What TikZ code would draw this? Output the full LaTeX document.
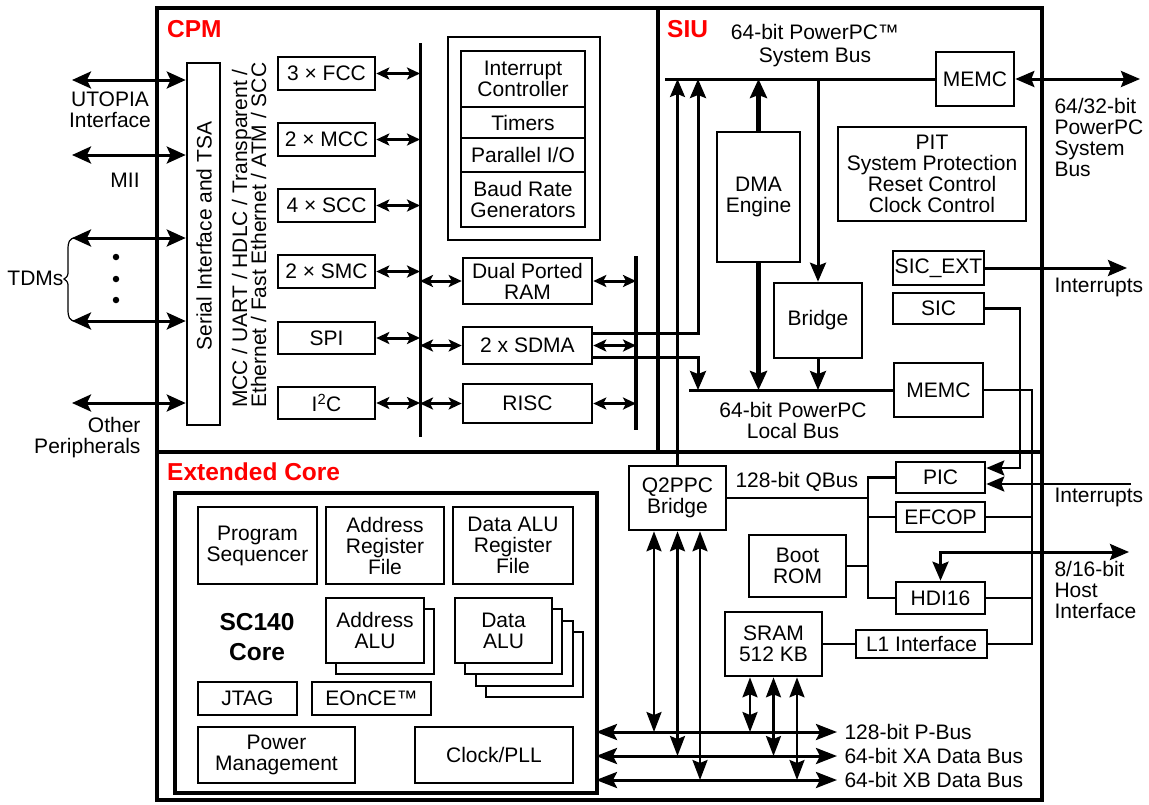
\documentclass[tikz,border=0pt]{standalone}
\usepackage{fontspec}
\setmainfont{Liberation Sans}
\usetikzlibrary{arrows.meta,calc}
\newcommand\mybox[7][]{%
  \pgfmathsetmacro\mbW{#5-#3}\pgfmathsetmacro\mbH{#6-#4}%
  \pgfmathsetmacro\mbX{(#3+#5)/2}\pgfmathsetmacro\mbY{(#4+#6)/2}%
  \node[blk,#1,minimum width=\mbW pt,minimum height=\mbH pt] (#2) at (\mbX,\mbY) {#7};}
\begin{document}
\begin{tikzpicture}[x=1pt,y=-1pt,
  font=\fontsize{21}{21}\selectfont,
  blk/.style={draw,line width=2.6pt,fill=white,inner sep=1pt,align=center},
  framebox/.style={line width=4.8pt},
  lbl/.style={text=red,font=\fontsize{24.5}{25}\selectfont\bfseries,inner sep=0pt},
  conn/.style={line width=3pt,>={Stealth[length=19pt,width=16pt,inset=3pt]}},
  fat/.style={line width=4.5pt,>={Stealth[length=19pt,width=17pt,inset=3pt]}},
  thinc/.style={line width=2.5pt,>={Stealth[length=18pt,width=15pt,inset=3pt]}},
  ext/.style={line width=3pt,>={Stealth[length=19pt,width=17pt,inset=4pt]},<->},
  sm/.style={line width=3pt,>={Stealth[length=13pt,width=12pt,inset=3pt]},<->},
  vb/.style={line width=2.5pt,>={Stealth[length=20pt,width=15pt,inset=3pt]},<->},
  busarr/.style={line width=3pt,>={Stealth[length=21pt,width=16pt,inset=4pt]},<->},
  dot/.style={circle,fill,inner sep=0pt,minimum size=6.5pt}
]
\useasboundingbox (0,0) rectangle (1149,804);
% ---------- frames ----------
\mybox[framebox]{cpm}{157}{8}{658}{452}{}
\mybox[framebox]{siu}{658}{8}{1042}{452}{}
\mybox[framebox]{ext}{157}{452}{1042}{800}{}
\node[lbl,anchor=base west] (cpml) at (167,37) {CPM};
\node[lbl,anchor=base west] (siul) at (667,37) {SIU};
\node[lbl,anchor=base west] (extl) at (167,480) {Extended Core};
% ---------- CPM ----------
\mybox{serial}{187}{63}{220}{425}{}
\node[rotate=90,inner sep=0pt] (serialt) at (204,236) {Serial Interface and TSA};
\node[rotate=90,anchor=base west,inner sep=0pt] (proto1) at (247,408) {MCC / UART / HDLC / Transparent /};
\node[rotate=90,anchor=base west,inner sep=0pt] (proto2) at (266,408) {Ethernet / Fast Ethernet / ATM / SCC};
\mybox{fcc}{278}{57}{375}{90}{3 × FCC}
\mybox{mcc}{278}{123}{375}{156}{2 × MCC}
\mybox{scc}{278}{189}{375}{222}{4 × SCC}
\mybox{smc}{278}{255}{375}{288}{2 × SMC}
\mybox{spi}{278}{322}{375}{354}{SPI}
\mybox{iic}{278}{387}{375}{419}{I\textsuperscript{2}C}
\mybox[line width=1.8pt]{intg}{448}{37}{600}{240}{}
\mybox{ictl}{461}{51}{585}{107}{Interrupt\\Controller}
\mybox{tim}{461}{107}{585}{138}{Timers}
\mybox{pio}{461}{138}{585}{172}{Parallel I/O}
\mybox{brg}{461}{172}{585}{227}{Baud Rate\\Generators}
\mybox{dpr}{463}{258}{592}{304}{Dual Ported\\RAM}
\mybox{sdma}{463}{327}{592}{364}{2 x SDMA}
\mybox{risc}{463}{384}{592}{423}{RISC}
\coordinate (lbT) at (420,43); \coordinate (lbB) at (420,437);
\draw[line width=3pt] (lbT) -- (lbB);
\coordinate (rbT) at (636,256); \coordinate (rbB) at (636,430);
\draw[line width=4.5pt] (rbT) -- (rbB);
\foreach \n in {fcc,mcc,scc,smc,spi,iic} {\draw[sm] (\n.east) -- (\n.east -| lbT);}
\foreach \n in {dpr,sdma,risc} {\draw[sm] (\n.west -| lbT) -- (\n.west); \draw[sm] (\n.east) -- (\n.east -| rbT);}
% external left
\coordinate (utp) at (72,80); \coordinate (mii) at (72,155);
\coordinate (tdma) at (72,238); \coordinate (tdmb) at (72,321); \coordinate (oth) at (72,403);
\foreach \c in {utp,mii,tdma,tdmb,oth} {\draw[ext] (\c) -- (\c -| serial.west);}
\node[align=center] (utpl) at (110,110) {UTOPIA\\Interface};
\node (miil) at (125,180) {MII};
\node[anchor=east] (tdml) at (67,278) {TDMs};
\node[align=right,anchor=east] (othl) at (144,438) {Other\\Peripherals};
\node[dot] (d1) at (116,257) {};
\node[dot] (d2) at (116,279) {};
\node[dot] (d3) at (116,300) {};
\draw[line width=1.2pt] (76,238) .. controls (69,238) and (68,242) .. (68,250) -- (68,270)
  .. controls (68,276) .. (64,279) .. controls (68,282) .. (68,288) -- (68,309)
  .. controls (68,317) and (69,321) .. (76,321);
% ---------- SIU ----------
\node[align=center] (sysbl) at (815,46) {64-bit PowerPC™\\[2pt]System Bus};
\mybox{memca}{936}{52}{1014}{106}{MEMC}
\mybox{dma}{717}{132}{800}{262}{DMA\\Engine}
\mybox{brdg}{774}{283}{862}{358}{Bridge}
\mybox{pit}{838}{127}{1026}{221}{PIT\\System Protection\\Reset Control\\Clock Control}
\mybox{sicx}{893}{251}{984}{285}{SIC\_EXT}
\mybox{sic}{893}{293}{984}{324}{SIC}
\mybox{memcb}{894}{363}{983}{417}{MEMC}
\node[align=center] (locl) at (793,420) {64-bit PowerPC\\Local Bus};
\node[align=left,anchor=west] (ppcl) at (1051,137) {64/32-bit\\PowerPC\\System\\Bus};
\node[anchor=west] (intral) at (1051,287) {Interrupts};
% ---------- Extended core ----------
\mybox[line width=4.2pt]{core}{175}{493}{597}{793}{}
\mybox{pseq}{198}{507}{317}{584}{Program\\Sequencer}
\mybox{arf}{326}{507}{444}{584}{Address\\Register\\File}
\mybox{drf}{453}{507}{573}{584}{Data ALU\\Register\\File}
\node[font=\fontsize{24.5}{30}\selectfont\bfseries,align=center] (scl) at (257,637) {SC140\\Core};
\mybox{aalub}{336}{609}{434}{674}{}
\mybox{aalu}{326}{598}{424}{663}{Address\\ALU}
\mybox{daluc}{486}{632}{583}{697}{}
\mybox{dalub}{476}{621}{573}{686}{}
\mybox{dalua}{465}{609}{562}{674}{}
\mybox{dalu}{455}{598}{552}{663}{Data\\ALU}
\mybox{jtag}{198}{682}{297}{715}{JTAG}
\mybox{eonce}{312}{682}{431}{715}{EOnCE™}
\mybox{pwr}{198}{727}{355}{783}{Power\\Management}
\mybox{clk}{415}{727}{573}{783}{Clock/PLL}
\mybox{q2ppc}{629}{466}{726}{530}{Q2PPC\\Bridge}
\node[anchor=west] (qbl) at (732,482) {128-bit QBus};
\mybox{pic}{896}{462}{985}{493}{PIC}
\mybox{efcop}{896}{502}{985}{532}{EFCOP}
\mybox{boot}{749}{535}{846}{597}{Boot\\ROM}
\mybox{hdi}{896}{582}{985}{614}{HDI16}
\mybox{sram}{725}{612}{822}{676}{SRAM\\512 KB}
\mybox{lone}{856}{630}{987}{658}{L1 Interface}
\node[anchor=west] (intrbl) at (1051,497) {Interrupts};
\node[align=left,anchor=west] (hostl) at (1051,590) {8/16-bit\\Host\\Interface};
\node[anchor=west] (pbl) at (841,732) {128-bit P-Bus};
\node[anchor=west] (xal) at (841,756) {64-bit XA Data Bus};
\node[anchor=west] (xbl) at (841,780) {64-bit XB Data Bus};
% ---------- SIU connectors ----------
\coordinate (sysL) at (665,79);
\coordinate (locL) at (689,390);
\draw[conn] (sysL) -- (memca.west);
\draw[conn] (locL) -- (memcb.west);
\coordinate (ppcbus) at (1140,79);
\draw[conn,<->] (memca.east) -- (ppcbus);
\coordinate (sdU) at (698,79); \coordinate (sdD) at (698,390);
\draw[conn,->] ([yshift=12.5pt]sdma.east) -| (sdU);
\draw[conn,->] ([yshift=-11.5pt]sdma.east) -| (sdD);
\draw[thinc,->] (q2ppc.north) -- (q2ppc.north |- sysL);
\draw[fat,->] (dma.north) -- (dma.north |- sysL);
\draw[fat,->] (dma.south) -- (dma.south |- locL);
\draw[conn,->] (brdg.north |- sysL) -- (brdg.north);
\draw[conn,->] (brdg.south) -- (brdg.south |- locL);
\coordinate (intrA) at (1127,268);
\draw[conn,->] (sicx.east) -- (intrA);
% ---------- Extended core connectors ----------
\coordinate (qv) at (868,598);
\draw[thinc] (pic.west) -| (qv) -- (hdi.west);
\draw[thinc] (q2ppc.east) -- (q2ppc.east -| qv);
\draw[thinc] (efcop.west) -- (efcop.west -| qv);
\draw[thinc] (boot.east) -- (boot.east -| qv);
\draw[thinc] (sram.east) -- (lone.west);
\coordinate (mv) at (1032,644);
\draw[thinc] (memcb.east) -| (mv) -- (lone.east);
\draw[thinc] (efcop.east) -- (efcop.east -| mv);
\draw[thinc] (hdi.east) -- (hdi.east -| mv);
\coordinate (sv) at (1020,468);
\draw[thinc,->] (sic.east) -| (sv) -- (sv -| pic.east);
\coordinate (intrB) at (1131,484);
\draw[thinc,->] (intrB) -- (intrB -| pic.east);
\coordinate (host) at (1129,552);
\draw[conn,<->] (host) -| (hdi.north);
% buses
\coordinate (pbL) at (596,732); \coordinate (pbR) at (837,732);
\coordinate (xaL) at (596,756); \coordinate (xaR) at (837,756);
\coordinate (xbL) at (596,780); \coordinate (xbR) at (837,780);
\draw[busarr] (pbL) -- (pbR);
\draw[busarr] (xaL) -- (xaR);
\draw[busarr] (xbL) -- (xbR);
\coordinate (qa) at (654,732); \coordinate (qb) at (677.5,756); \coordinate (qc) at (700,780);
\draw[vb] (qa |- q2ppc.south) -- (qa);
\draw[vb] (qb |- q2ppc.south) -- (qb);
\draw[vb] (qc |- q2ppc.south) -- (qc);
\coordinate (ra) at (750,732); \coordinate (rb) at (773.5,756); \coordinate (rc) at (797,780);
\draw[vb] (ra |- sram.south) -- (ra);
\draw[vb] (rb |- sram.south) -- (rb);
\draw[vb] (rc |- sram.south) -- (rc);
\end{tikzpicture}
\end{document}
